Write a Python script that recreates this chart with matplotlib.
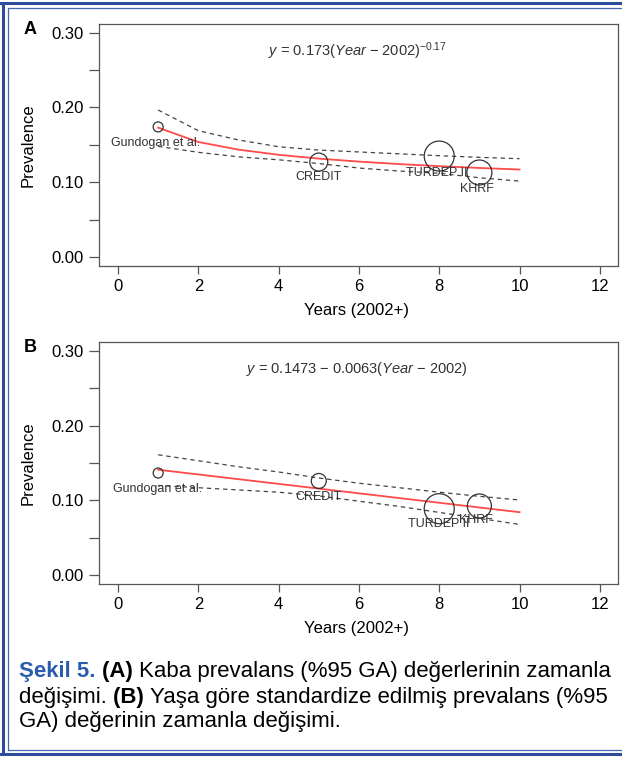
import matplotlib
matplotlib.use("Agg")
import matplotlib.pyplot as plt
from matplotlib.lines import Line2D
from matplotlib.text import Annotation

plt.rcParams['font.family'] = ['Liberation Sans', 'DejaVu Sans']
plt.rcParams['mathtext.fontset'] = 'custom'
plt.rcParams['mathtext.rm'] = 'Liberation Sans'
plt.rcParams['mathtext.it'] = 'Liberation Sans:italic'

# ---------------- data ----------------
studies = ["Gundogan et al.", "CREDIT", "TURDEP II", "KHRF"]
study_years = [1, 5, 8, 9]

# Panel A: crude prevalence
prev_a = [0.174, 0.127, 0.135, 0.113]
bubble_a = [10, 18, 30, 25]          # relative study weight (bubble diameter)
curve_x_a = [1, 2, 3, 4, 5, 6, 7, 8, 9, 10]
fit_a = [0.173, 0.1538, 0.1436, 0.1367, 0.1316, 0.1276, 0.1243, 0.1215, 0.1191, 0.1170]
upper_a = [0.1966, 0.169, 0.1565, 0.1475, 0.143, 0.1405, 0.138, 0.1355, 0.1333, 0.1315]
lower_a = [0.148, 0.140, 0.134, 0.130, 0.125, 0.119, 0.115, 0.112, 0.106, 0.1015]
eq_a = r"$\mathit{y}$ = 0.173($\mathit{Year}$ $-$ 2002)$^{-0.17}$"

# Panel B: age-standardized prevalence
prev_b = [0.1366, 0.126, 0.089, 0.0926]
bubble_b = [10, 15, 30, 24]
fit_x_b = [1, 10]
fit_b = [0.141, 0.0843]
curve_x_b = [1, 2, 3, 4, 5, 6, 7, 8, 9, 10]
upper_b = [0.161, 0.153, 0.145, 0.138, 0.130, 0.123, 0.117, 0.111, 0.1055, 0.1006]
lower_b = [0.120, 0.117, 0.114, 0.111, 0.106, 0.099, 0.092, 0.084, 0.076, 0.068]
eq_b = r"$\mathit{y}$ = 0.1473 $-$ 0.0063($\mathit{Year}$ $-$ 2002)"

xticks = [0, 2, 4, 6, 8, 10, 12]
yticks = [0.00, 0.10, 0.20, 0.30]
yminor = [0.05, 0.15, 0.25]
xlabel = "Years (2002+)"
ylabel = "Prevalence"

# ---------------- figure ----------------
W, H = 622, 757
fig = plt.figure(figsize=(W / 100, H / 100), dpi=100)


def fx(px):
    return px / W


def fy(py):
    return 1 - py / H


def make_panel(top_px, bottom_px, letter, prev, bubbles, fx_, fit, cx, up, lo, eq,
               label_offsets):
    hpx = bottom_px - top_px
    ax = fig.add_axes([fx(98.5), fy(bottom_px), fx(617.5) - fx(98.5),
                       fy(top_px) - fy(bottom_px)])
    ax.set_xlim(-0.486, 12.44)
    ax.set_ylim(-0.012, 0.3116)
    for s in ax.spines.values():
        s.set_color('#555555')
        s.set_linewidth(0.9)
    ax.set_xticks(xticks)
    ax.set_xticklabels([str(t) for t in xticks])
    ax.set_yticks(yticks)
    ax.set_yticklabels([f"{t:.2f}" for t in yticks])
    ax.set_yticks(yminor, minor=True)
    ax.tick_params(axis='y', which='both', length=7.5, width=0.9, color='#555555',
                   labelsize=12, pad=3)
    ax.tick_params(axis='x', which='both', length=6, width=0.9, color='#555555',
                   labelsize=12, pad=3)
    ax.set_xlabel(xlabel, fontsize=12)
    ax.set_ylabel(ylabel, fontsize=12)
    ax.yaxis.set_label_coords((36 - 98.5) / 519, 0.5)
    ax.xaxis.set_label_coords(0.497, -37 / hpx)

    ax.plot(cx, up, ls=(0, (3.5, 3.0)), color='#444444', lw=0.9)
    ax.plot(cx, lo, ls=(0, (3.5, 3.0)), color='#444444', lw=0.9)
    ax.plot(fx_, fit, color='#ff4a4a', lw=1.3)
    sizes = [(0.72 * d) ** 2 for d in bubbles]
    ax.scatter(study_years, prev, s=sizes, facecolors='none', edgecolors='#333333',
               linewidths=0.9, zorder=3)
    for name, x, y, (dx, dy) in zip(studies, study_years, prev, label_offsets):
        ax.text(x + dx, y + dy, name, fontsize=9, color='#333333',
                ha='center', va='center')
    ax.text(5.96, 0.275, eq, fontsize=10.5, color='#333333', ha='center', va='center')
    fig.text(fx(30.5), fy((top_px + 5.5)), letter, fontsize=13, fontweight='bold',
             ha='center', va='center')
    return ax


make_panel(24, 266, "A", prev_a, bubble_a, curve_x_a, fit_a, curve_x_a, upper_a,
           lower_a, eq_a,
           [(-0.06, -0.021), (0.0, -0.020), (-0.06, -0.022), (-0.06, -0.022)])
make_panel(342, 584.3, "B", prev_b, bubble_b, fit_x_b, fit_b, curve_x_b, upper_b,
           lower_b, eq_b,
           [(-0.02, -0.021), (0.0, -0.021), (-0.01, -0.0205), (-0.08, -0.0186)])

# ---------------- caption ----------------
blue = '#2a5caf'
lines = [
    [("Şekil 5. ", 'bold', blue), ("(A) ", 'bold', 'black'),
     ("Kaba prevalans (%95 GA) değerlerinin zamanla", 'normal', 'black')],
    [("değişimi. ", 'normal', 'black'), ("(B) ", 'bold', 'black'),
     ("Yaşa göre standardize edilmiş prevalans (%95", 'normal', 'black')],
    [("GA) değerinin zamanla değişimi.", 'normal', 'black')],
]
line_y = [672, 697, 722]
cap_fs = 16
for pieces, ypx in zip(lines, line_y):
    last = None
    for txt, wt, col in pieces:
        if last is None:
            last = fig.text(fx(19), fy(ypx), txt, fontsize=cap_fs, fontweight=wt,
                            color=col, ha='left', va='center')
        else:
            last = fig.add_artist(
                Annotation(txt, xy=(1, 0), xycoords=last, fontsize=cap_fs,
                           fontweight=wt, color=col, ha='left', va='bottom'))

# ---------------- frame ----------------
fig.add_artist(Line2D([fx(2.8), fx(2.8)], [fy(2.8), fy(754)], color='#2d4c9c', lw=2.2,
                      solid_capstyle='butt'))
fig.add_artist(Line2D([fx(1.3), fx(640)], [fy(2.8), fy(2.8)], color='#2d4c9c', lw=2.2))
fig.add_artist(Line2D([fx(1.3), fx(640)], [fy(754), fy(754)], color='#2d4c9c', lw=2.2))
fig.add_artist(Line2D([fx(7.7), fx(7.7)], [fy(7.8), fy(749.6)], color='#4565b5', lw=0.9))
fig.add_artist(Line2D([fx(7.7), fx(640)], [fy(7.8), fy(7.8)], color='#4565b5', lw=0.9))
fig.add_artist(Line2D([fx(7.7), fx(640)], [fy(749.6), fy(749.6)], color='#4565b5', lw=0.9))

fig.savefig("out.png", dpi=100)
